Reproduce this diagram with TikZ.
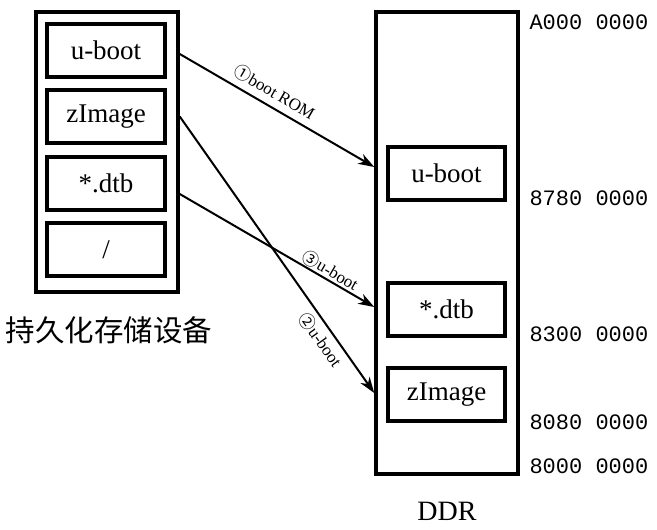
\documentclass[tikz,border=0pt]{standalone}
\usepackage{fontspec}
\setmainfont{Liberation Serif}
\setmonofont{Liberation Mono}
\newfontfamily\cjk{Noto Sans CJK SC}
\usetikzlibrary{arrows.meta}

\begin{document}
\begin{tikzpicture}[x=1pt,y=-1pt,
        frame/.style={draw, line width=3.5pt, minimum width=142pt, inner sep=0pt},
        blk/.style={draw, line width=3.5pt, minimum width=118pt, minimum height=53pt, inner sep=0pt, font=\fontsize{27}{30}\selectfont},
        addr/.style={anchor=west, font=\ttfamily\fontsize{22}{24}\selectfont},
        load/.style={-{Stealth[length=16pt,width=11pt,inset=5pt]}, line width=2pt},
        tag/.style={sloped, inner sep=1pt, font=\fontsize{17}{18}\selectfont}]
            \useasboundingbox (0,0) rectangle (657,530);

            % persistent storage
            \node[frame, minimum height=280pt] (store) at (107,152) {};
            \node[blk] (lboot) at (106,50.5) {u-boot};
            \node[blk] (limg) at (106,116.5) {zImage};
            \node[blk] (ldtb) at (106,183.5) {*.dtb};
            \node[blk] (lroot) at (106,249.5) {/};
            \node[font=\cjk\fontsize{29.5}{31}\selectfont] (storename) at (109,330) {持久化存储设备};

            % DDR
            \node[frame, minimum height=462pt] (ddr) at (447,243) {};
            \node[blk, minimum width=117pt] (dboot) at (446.5,173.5) {u-boot};
            \node[blk, minimum width=117pt] (ddtb) at (446.5,309.5) {*.dtb};
            \node[blk, minimum width=117pt] (dimg) at (446.5,394.5) {zImage};
            \node[font=\fontsize{28}{30}\selectfont] (ddrname) at (447,511) {DDR};

            \node[addr] (a0) at (526,22) {A000 0000};
            \node[addr] (a1) at (526,198) {8780 0000};
            \node[addr] (a2) at (526,334) {8300 0000};
            \node[addr] (a3) at (526,422) {8080 0000};
            \node[addr] (a4) at (526,466) {8000 0000};

            \draw[load] ([yshift=-3.5pt]store.east |- lboot.east) -- ([yshift=6.5pt]ddr.west |- dboot.west)
                node[tag, above=5pt, pos=0.45] {{\cjk ①}boot ROM};
            \draw[load] (store.east |- limg.east) -- ([yshift=1.5pt]ddr.west |- dimg.west)
                node[tag, below=3pt, pos=0.78] {{\cjk ②}u-boot};
            \draw[load] ([yshift=-10.5pt]store.east |- ldtb.east) -- ([yshift=2.5pt]ddr.west |- ddtb.west)
                node[tag, above=0pt, pos=0.75] {{\cjk ③}u-boot};
        \end{tikzpicture}
\end{document}
